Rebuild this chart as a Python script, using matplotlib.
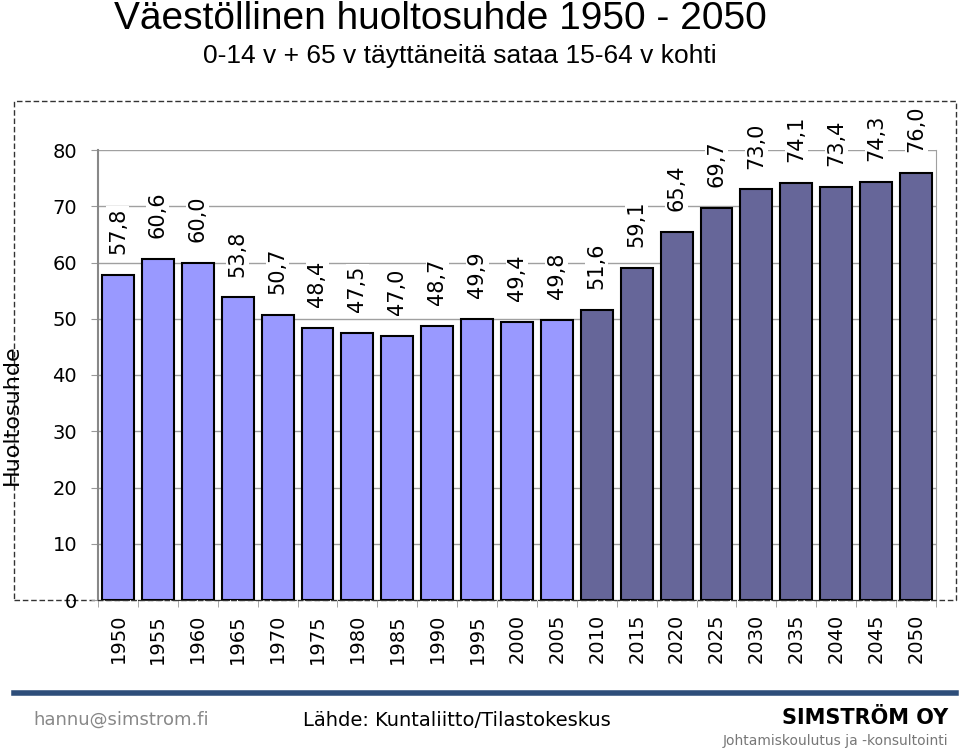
import matplotlib.pyplot as plt
from matplotlib.patches import Rectangle
from matplotlib.lines import Line2D

years = [1950, 1955, 1960, 1965, 1970, 1975, 1980, 1985, 1990, 1995, 2000,
         2005, 2010, 2015, 2020, 2025, 2030, 2035, 2040, 2045, 2050]
ratio = [57.8, 60.6, 60.0, 53.8, 50.7, 48.4, 47.5, 47.0, 48.7, 49.9, 49.4,
         49.8, 51.6, 59.1, 65.4, 69.7, 73.0, 74.1, 73.4, 74.3, 76.0]
forecast_from = 2010

plt.rcParams['font.family'] = ['DejaVu Sans']

fig = plt.figure(figsize=(9.6, 7.5), dpi=100)
W, H = 960, 750
ax = fig.add_axes([98 / W, 1 - 600 / H, (936 - 98) / W, 450 / H])

colors = ['#666699' if y >= forecast_from else '#9999ff' for y in years]
x = range(len(years))
ax.bar(x, ratio, width=0.8, color=colors, edgecolor='black', linewidth=1.5, zorder=3)

for i, v in zip(x, ratio):
    ax.annotate(f'{v:.1f}'.replace('.', ','), (i, v), xytext=(0, 15),
                textcoords='offset points', rotation=90, ha='center', va='bottom',
                fontsize=15,
                bbox=dict(facecolor='white', edgecolor='none', pad=1), zorder=4)

ax.set_xlim(-0.5, len(years) - 0.5)
ax.set_ylim(0, 80)
ax.set_yticks(range(0, 81, 10))
ax.tick_params(axis='y', labelsize=14, length=5, color='#999999', pad=10)
ax.set_xticks(x)
ax.set_xticklabels([str(y) for y in years], rotation=90, fontsize=14)
ax.tick_params(axis='x', length=0, pad=10)
ax.set_xticks([i - 0.5 for i in range(len(years) + 1)], minor=True)
ax.tick_params(axis='x', which='minor', length=5, color='#999999')
ax.grid(axis='y', color='#a0a0a0', linewidth=1, zorder=0)
ax.spines['top'].set_visible(False)
ax.spines['right'].set_color('#a0a0a0')
ax.spines['left'].set_color('#888888')
ax.spines['left'].set_linewidth(1.5)
ax.spines['bottom'].set_linestyle((0, (4, 2)))
ax.spines['bottom'].set_color('#333333')

# dashed frame
fig.add_artist(Rectangle((14 / W, 1 - 600 / H), (956 - 14) / W, (600 - 101) / H,
                         transform=fig.transFigure, fill=False, edgecolor='#333333',
                         linestyle=(0, (4, 2)), linewidth=1, zorder=0))
fig.text(12 / W, 1 - 415 / H, 'Huoltosuhde', rotation=90, ha='center', va='center',
         fontsize=16)

fig.text(440 / W, 1 - 19 / H, 'Väestöllinen huoltosuhde 1950 - 2050',
         ha='center', va='center', fontsize=28, family=['Liberation Sans'])
fig.text(460 / W, 1 - 56 / H, '0-14 v + 65 v täyttäneitä sataa 15-64 v kohti',
         ha='center', va='center', fontsize=19, family=['Liberation Sans'])

fig.add_artist(Line2D([14 / W, 956 / W], [1 - 693 / H, 1 - 693 / H],
                      transform=fig.transFigure, color='#2e4e7a', linewidth=4))
fig.text(33 / W, 1 - 720 / H, 'hannu@simstrom.fi', ha='left', va='center',
         fontsize=13, color='#888888')
fig.text(303 / W, 1 - 720 / H, 'Lähde: Kuntaliitto/Tilastokeskus', ha='left',
         va='center', fontsize=14)
fig.text(948 / W, 1 - 718 / H, 'SIMSTRÖM OY', ha='right', va='center',
         fontsize=15, fontweight='bold')
fig.text(948 / W, 1 - 741 / H, 'Johtamiskoulutus ja -konsultointi', ha='right',
         va='center', fontsize=10, color='#777777')

fig.savefig('out.png', dpi=100)
